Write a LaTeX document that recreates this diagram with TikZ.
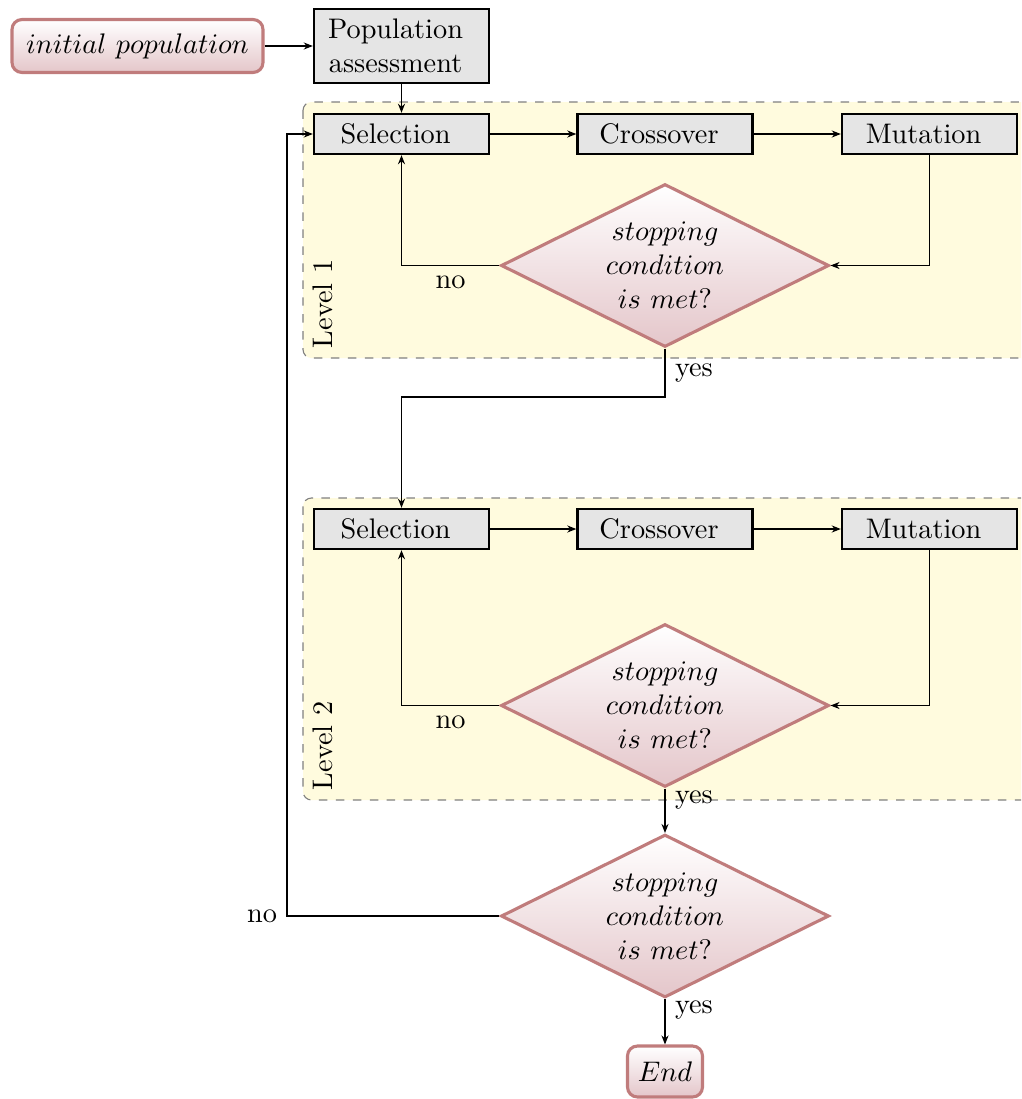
\documentclass[tikz,border=0pt]{standalone}
\usetikzlibrary{shapes.geometric,arrows.meta}

\definecolor{levelfill}{RGB}{255,251,222}
\definecolor{boxfill}{RGB}{229,229,229}
\definecolor{termline}{RGB}{192,124,124}
\definecolor{termshade}{RGB}{228,198,202}

% right-side kern used to sit box texts slightly left of centre
\newcommand{\lpad}[1]{#1\kern4.2pt}

\begin{document}
\begin{tikzpicture}[x=0.3534pt,y=-0.3534pt,
  terminal/.style={draw=termline, line width=1.1pt, rounded corners=3.5pt,
    top color=white, bottom color=termshade, inner sep=0pt},
  stepbox/.style={draw=black, line width=0.9pt, fill=boxfill,
    minimum width=61.8pt, minimum height=14.1pt, inner sep=0pt, align=center},
  decision/.style={diamond, aspect=2, draw=termline, line width=1.1pt,
    top color=white, bottom color=termshade, inner sep=0pt,
    minimum width=115.9pt, minimum height=57.6pt, align=center},
  levelbox/.style={draw=gray, dashed, line width=0.4pt, fill=levelfill,
    rounded corners=3pt},
  levellabel/.style={rotate=90, anchor=north west, inner sep=3.3pt},
  conn/.style={line width=0.4pt, -{Stealth[length=3.2pt,width=2.5pt]}}
]
\useasboundingbox (0,0) rectangle (1021,1099);
\clip (0,0) rectangle (1021,1099);

% level backgrounds
\draw[levelbox] (303,102) rectangle (1060,358);
\draw[levelbox] (303,498) rectangle (1060,800);
\node[levellabel] (lev1) at (303,358) {Level 1};
\node[levellabel] (lev2) at (303,800) {Level 2};

% start and assessment
\node[terminal, minimum width=88.7pt, minimum height=18.7pt] (init) at (137.5,46) {$initial\ population$};
\node[stepbox, minimum height=26.2pt] (assess) at (401.5,46) {\lpad{Population}\\\lpad{assessment}};

% level 1
\node[stepbox] (sel1) at (401.5,134) {\lpad{Selection}};
\node[stepbox] (cro1) at (665,134) {\lpad{Crossover}};
\node[stepbox] (mut1) at (929.5,134) {\lpad{Mutation}};
\node[decision] (dec1) at (665,265.5) {$stopping$\\$condition$\\$is\ met?$};

% level 2
\node[stepbox] (sel2) at (401.5,529) {\lpad{Selection}};
\node[stepbox] (cro2) at (665,529) {\lpad{Crossover}};
\node[stepbox] (mut2) at (929.5,529) {\lpad{Mutation}};
\node[decision] (dec2) at (665,705.5) {$stopping$\\$condition$\\$is\ met?$};

% overall test and end
\node[decision] (dec3) at (665,916) {$stopping$\\$condition$\\$is\ met?$};
\node[terminal, minimum width=26.5pt, minimum height=18pt] (finish) at (665,1071.5) {$End$};

\coordinate (bend1) at (533,397);
\coordinate (back) at (287,916);

% connectors
\draw[conn] (init.east) -- (assess.west);
\draw[conn] (assess) -- (sel1);

\draw[conn] (sel1) -- (cro1);
\draw[conn] (cro1) -- (mut1);
\draw[conn] (mut1.south) |- (dec1.east);
\draw[conn] (dec1.west) -| node[below, near start] {no} (sel1.south);
\draw[conn] (dec1.south) |- node[right, near start] {yes} (bend1) -| (sel2.north);

\draw[conn] (sel2) -- (cro2);
\draw[conn] (cro2) -- (mut2);
\draw[conn] (mut2.south) |- (dec2.east);
\draw[conn] (dec2.west) -| node[below, near start] {no} (sel2.south);
\draw[conn] (dec2) -- node[right, near start] {yes} (dec3);

\draw[conn] (dec3.west) -- (back) node[left] {no} |- (sel1.west);
\draw[conn] (dec3) -- node[right, near start] {yes} (finish);
\end{tikzpicture}
\end{document}
